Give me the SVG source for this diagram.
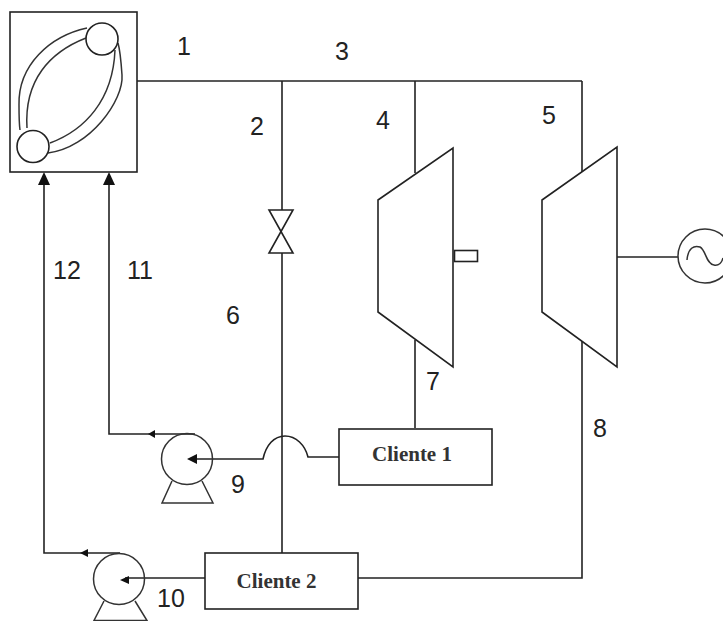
<svg xmlns="http://www.w3.org/2000/svg" width="723" height="621" viewBox="0 0 723 621">
<style>
.l{fill:none;stroke:#222;stroke-width:1.6}
.t{fill:none;stroke:#333;stroke-width:1.5}
.w{fill:#fff;stroke:#222;stroke-width:1.6}
.h{fill:#111;stroke:none}
.n{font-family:"Liberation Sans",Arial,sans-serif;font-size:25px;fill:#222;text-anchor:middle}
.c{font-family:"Liberation Serif","Times New Roman",serif;font-size:21px;font-weight:bold;fill:#333;text-anchor:middle}
</style>
<rect width="723" height="621" fill="#fff"/>
<g id="connectors">
<path class="l" d="M137 81H582"/>
<path class="l" d="M282 81V210M282 253V553"/>
<path class="l" d="M415 81V173M415 340V428"/>
<path class="l" d="M582 81V173M582 340V578H358"/>
<path class="l" d="M617 257H678"/>
<path class="l" d="M339 457H308C305 445 296 436 285 436C274 436 266 445 263 459H190"/>
<polygon class="h" points="187,459 197,454 197,464"/>
<path class="l" d="M195 434H109V180"/>
<polygon class="h" points="109,172 103,185 115,185"/>
<polygon class="h" points="148,434 155,430 155,438"/>
<path class="l" d="M205 578H125"/>
<polygon class="h" points="120,580 129,576 129,584"/>
<path class="l" d="M120 553H44V180"/>
<polygon class="h" points="44,172 38,185 50,185"/>
<polygon class="h" points="80,553 88,549 88,557"/>
</g>
<g id="boiler">
<rect class="l" x="10" y="12" width="127" height="160"/>
<path class="t" d="M87 28C50 36 18 65 19 105C19 115 19 123 20 130"/>
<path class="t" d="M86 38C50 52 24 80 27 128"/>
<path class="t" d="M48 153C90 148 124 100 122 75C121 60 120 50 118 43"/>
<path class="t" d="M50 143C85 130 113 100 115 50"/>
<circle class="w" cx="102" cy="39" r="16"/>
<circle class="w" cx="33" cy="146.500" r="16"/>
</g>
<g id="valve"><path class="l" d="M269 210H293L269 253H293Z"/></g>
<g id="turbine-1">
<polygon class="w" points="378,200 453,148 453,367 378,312"/>
<rect class="l" x="454.500" y="250.500" width="23" height="11"/>
</g>
<g id="turbine-2">
<polygon class="w" points="542,200 617,147 617,367 542,312"/>
</g>
<g id="generator">
<circle class="t" cx="705" cy="256" r="27"/>
<path class="t" d="M687 260C688 248 694 245 700 247C706 250 706 264 714 265C719 266 722 262 723 258"/>
</g>
<g id="cliente-1">
<rect class="l" x="339" y="429" width="153" height="56"/>
<text class="c" x="412" y="461">Cliente 1</text>
</g>
<g id="cliente-2">
<rect class="l" x="205" y="553" width="153" height="56"/>
<text class="c" x="276.500" y="588">Cliente 2</text>
</g>
<g id="pump-9">
<circle class="t" cx="187" cy="459" r="25.500"/>
<path class="t" d="M172 481L162 503H213L202 481"/>
</g>
<g id="pump-10">
<circle class="t" cx="119" cy="579" r="25.500"/>
<path class="t" d="M104 601L94 620.500H147L135 601"/>
</g>
<g id="labels">
<text class="n" x="184" y="55">1</text>
<text class="n" x="257" y="135">2</text>
<text class="n" x="342" y="60">3</text>
<text class="n" x="383" y="129">4</text>
<text class="n" x="549" y="124">5</text>
<text class="n" x="233" y="324">6</text>
<text class="n" x="433" y="390">7</text>
<text class="n" x="600" y="437">8</text>
<text class="n" x="238" y="493">9</text>
<text class="n" x="171" y="607">10</text>
<text class="n" x="140" y="279">11</text>
<text class="n" x="67" y="279">12</text>
</g>
</svg>
